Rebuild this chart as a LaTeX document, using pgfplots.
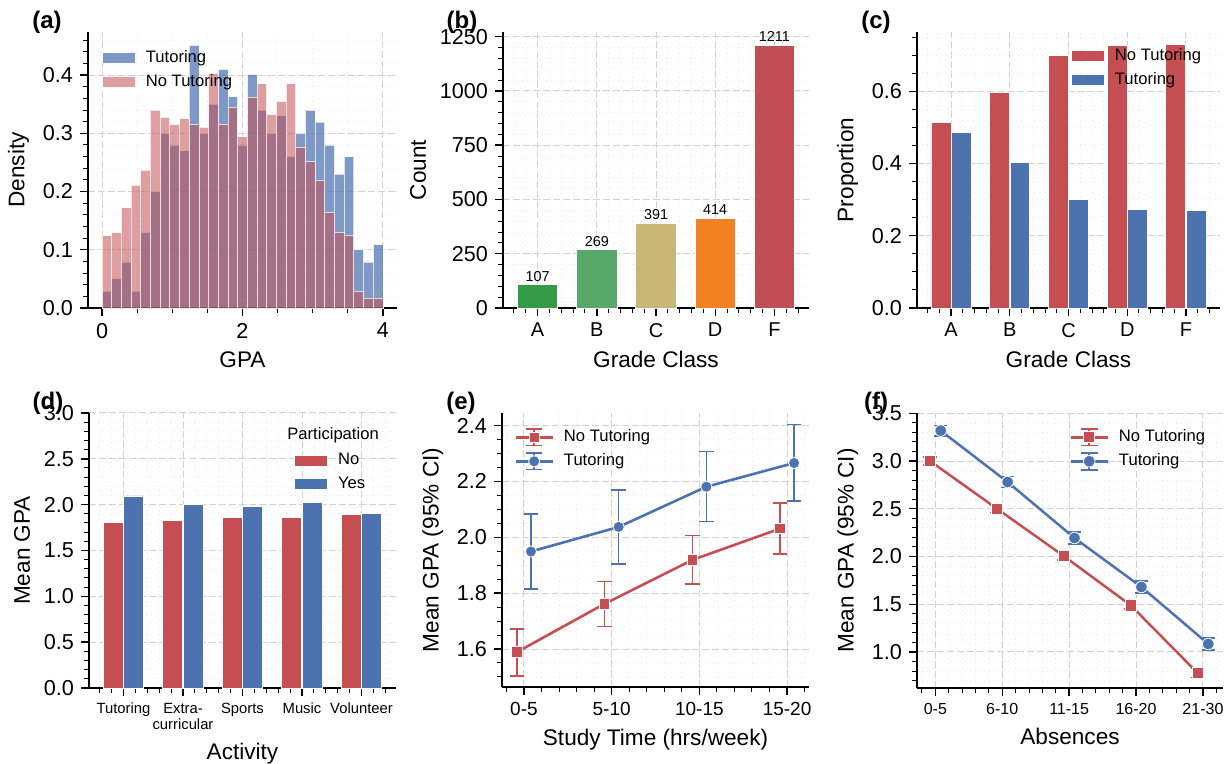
\documentclass[border=0pt]{standalone}
\usepackage{fontspec}
\setmainfont{Liberation Sans}
\usepackage{pgfplots}
\usepackage{pgfplotstable}
\pgfplotsset{compat=1.18}

\definecolor{cblue}{HTML}{4C72B0}
\definecolor{cred}{HTML}{C44E52}
\definecolor{gA}{HTML}{339A45}
\definecolor{gB}{HTML}{58A86A}
\definecolor{gC}{HTML}{C9B674}
\definecolor{gD}{HTML}{F28124}
\definecolor{gF}{HTML}{C14E52}
\definecolor{gridc}{HTML}{D2D2D2}
\definecolor{gridm}{HTML}{EBEBEB}

\newcommand{\tickfont}{\fontsize{10.8}{12}\selectfont}
\newcommand{\labfont}{\fontsize{11.3}{13}\selectfont}
\newcommand{\legfont}{\fontsize{8.3}{10}\selectfont}
\newcommand{\panfont}{\bfseries\fontsize{12}{14}\selectfont}

% GPA histogram, 29 bins on [0,4]
\pgfplotstableread{
edge   tut    notut
0.0000 0.029  0.124
0.1379 0.050  0.129
0.2759 0.079  0.172
0.4138 0.029  0.211
0.5517 0.130  0.237
0.6897 0.200  0.340
0.8276 0.300  0.327
0.9655 0.280  0.315
1.1034 0.270  0.325
1.2414 0.451  0.315
1.3793 0.300  0.310
1.5172 0.350  0.403
1.6552 0.410  0.315
1.7931 0.363  0.345
1.9310 0.280  0.294
2.0690 0.401  0.362
2.2069 0.340  0.385
2.3448 0.300  0.332
2.4828 0.330  0.355
2.6207 0.260  0.385
2.7586 0.300  0.276
2.8966 0.340  0.251
3.0345 0.319  0.219
3.1724 0.280  0.164
3.3103 0.230  0.130
3.4483 0.260  0.125
3.5862 0.100  0.029
3.7241 0.079  0.017
3.8621 0.109  0.017
4.0000 0      0
}\histdata

\pgfplotsset{
  panel/.style={
    scale only axis, width=153.5pt, height=138pt, anchor=south west,
    axis lines=left, axis line style={-, line width=1.1pt},
    tick align=outside,
    major tick length=4pt, minor tick length=2.3pt,
    every major tick/.append style={line width=0.7pt, black},
    every minor tick/.append style={line width=0.5pt, black},
    grid=both,
    major grid style={dash pattern=on 3.5pt off 1.5pt, gridc, line width=0.5pt},
    minor grid style={dotted, gridm, line width=0.4pt},
    tick label style={font=\tickfont},
    label style={font=\labfont},
    /pgf/number format/assume math mode=true,
    /pgf/number format/1000 sep={},
    clip=false,
    legend cell align=left,
    legend style={draw=none, fill=none, font=\legfont, inner sep=0pt,
      row sep=0.5pt, nodes={inner sep=2pt},
      /tikz/every odd column/.style={column sep=3pt}},
  },
  onedec/.style={yticklabel style={/pgf/number format/.cd, fixed, fixed zerofill, precision=1}},
  barleg/.style={legend image code/.code={
    \draw[##1, draw=white, line width=0.3pt] (0pt,-2.8pt) rectangle (16.5pt,2.8pt);}},
  errleg/.style={legend image code/.code={
    \draw[##1, mark=none] (0pt,0pt) -- (18.5pt,0pt);
    \draw[##1, mark=none, line width=0.8pt] (9.25pt,-4.2pt) -- (9.25pt,4.2pt)
      (5.1pt,4.2pt) -- (13.4pt,4.2pt) (5.1pt,-4.2pt) -- (13.4pt,-4.2pt);
    \draw[##1, only marks] plot coordinates {(9.25pt,0pt)};}},
}

\begin{document}
\begin{tikzpicture}

% (a) GPA distribution
\begin{axis}[panel, at={(44pt,228pt)}, width=154.5pt,
  xmin=-0.2, xmax=4.2, ymin=0, ymax=0.474,
  xtick={0,2,4}, minor xtick={0.5,1,1.5,2.5,3,3.5},
  ytick={0,0.1,0.2,0.3,0.4}, minor ytick={0.02,0.04,...,0.46}, onedec,
  xlabel={GPA}, ylabel={Density},
  legend style={at={(rel axis cs:0.045,0.95)}, anchor=north west}]
\addplot[ybar interval, fill=cblue, fill opacity=0.72, draw=white, draw opacity=0.7,
  line width=0.4pt, forget plot] table[x=edge, y=tut] {\histdata};
\addplot[ybar interval, fill=cred, fill opacity=0.55, draw=white, draw opacity=0.7,
  line width=0.4pt, forget plot] table[x=edge, y=notut] {\histdata};
\addlegendimage{fill=cblue, fill opacity=0.72, barleg}
\addlegendentry{Tutoring}
\addlegendimage{fill=cred, fill opacity=0.55, barleg}
\addlegendentry{No Tutoring}
\node[font=\panfont] at ([xshift=-20.5pt, yshift=5pt]rel axis cs:0,1) {(a)};
\end{axis}

% (b) grade class counts
\begin{axis}[panel, at={(251.5pt,228pt)}, width=153pt,
  xmin=-0.585, xmax=4.585, ymin=0, ymax=1271.5,
  xtick={0,...,4}, xticklabels={A,B,C,D,F}, minor xtick={-0.4,-0.2,...,4.4},
  xticklabel style={font=\fontsize{10}{12}\selectfont},
  ytick={0,250,...,1250}, minor ytick={50,100,...,1250},
  xlabel={Grade Class}, ylabel={Count},
  nodes near coords, nodes near coords style={font=\fontsize{7.2}{8}\selectfont, black, inner sep=1.5pt}]
\addplot[ybar, bar width=0.68, bar shift=0, fill=gA, draw=white] coordinates {(0,107)};
\addplot[ybar, bar width=0.68, bar shift=0, fill=gB, draw=white] coordinates {(1,269)};
\addplot[ybar, bar width=0.68, bar shift=0, fill=gC, draw=white] coordinates {(2,391)};
\addplot[ybar, bar width=0.68, bar shift=0, fill=gD, draw=white] coordinates {(3,414)};
\addplot[ybar, bar width=0.68, bar shift=0, fill=gF, draw=white] coordinates {(4,1211)};
\node[font=\panfont] at ([xshift=-20.5pt, yshift=5pt]rel axis cs:0,1) {(b)};
\end{axis}

% (c) tutoring proportion by grade
\begin{axis}[panel, at={(458.5pt,228pt)}, width=151.5pt,
  xmin=-0.58, xmax=4.58, ymin=0, ymax=0.764,
  xtick={0,...,4}, xticklabels={A,B,C,D,F}, minor xtick={-0.4,-0.2,...,4.4},
  xticklabel style={font=\fontsize{10}{12}\selectfont},
  ytick={0,0.2,0.4,0.6}, minor ytick={0.05,0.1,...,0.75}, onedec,
  xlabel={Grade Class}, ylabel={Proportion},
  legend style={at={(rel axis cs:0.508,0.957)}, anchor=north west}]
\addplot[ybar, bar width=0.34, bar shift=-0.172, fill=cred, draw=white, forget plot]
  coordinates {(0,0.513) (1,0.597) (2,0.700) (3,0.727) (4,0.730)};
\addplot[ybar, bar width=0.34, bar shift=0.172, fill=cblue, draw=white, forget plot]
  coordinates {(0,0.487) (1,0.403) (2,0.300) (3,0.273) (4,0.270)};
\addlegendimage{fill=cred, barleg}
\addlegendentry{No Tutoring}
\addlegendimage{fill=cblue, barleg}
\addlegendentry{Tutoring}
\node[font=\panfont] at ([xshift=-20.5pt, yshift=5pt]rel axis cs:0,1) {(c)};
\end{axis}

% (d) mean GPA by activity
\begin{axis}[panel, at={(44.5pt,38pt)}, width=153.5pt, height=137.5pt,
  xmin=-0.58, xmax=4.58, ymin=0, ymax=3,
  xtick={0,...,4}, xticklabels={Tutoring,Extra-\\curricular,Sports,Music,Volunteer},
  minor xtick={-0.4,-0.2,...,4.4},
  xticklabel style={font=\fontsize{7.4}{8.2}\selectfont, align=center},
  ytick={0,0.5,...,3}, minor ytick={0.1,0.2,...,2.95}, onedec,
  xlabel={Activity}, ylabel={Mean GPA},
  legend style={at={(rel axis cs:0.668,0.869)}, anchor=north west}]
\addplot[ybar, bar width=0.34, bar shift=-0.172, fill=cred, draw=white, forget plot]
  coordinates {(0,1.807) (1,1.832) (2,1.861) (3,1.861) (4,1.898)};
\addplot[ybar, bar width=0.34, bar shift=0.172, fill=cblue, draw=white, forget plot]
  coordinates {(0,2.095) (1,2.007) (2,1.978) (3,2.029) (4,1.905)};
\addlegendimage{fill=cred, barleg}
\addlegendentry{No}
\addlegendimage{fill=cblue, barleg}
\addlegendentry{Yes}
\node[font=\legfont] at (rel axis cs:0.795,0.92) {Participation};
\node[font=\panfont] at ([xshift=-20.5pt, yshift=5pt]rel axis cs:0,1) {(d)};
\end{axis}

% (e) study time
\begin{axis}[panel, at={(251pt,38.5pt)}, width=153.5pt, height=137pt,
  xmin=-0.25, xmax=3.25, ymin=1.464, ymax=2.445,
  xtick={0,1,2,3}, xticklabels={0-5,5-10,10-15,15-20}, minor xtick={-0.2,0,...,3.2},
  xticklabel style={font=\fontsize{9.5}{11}\selectfont},
  ytick={1.6,1.8,2.0,2.2,2.4}, minor ytick={1.5,1.55,...,2.42}, onedec,
  xlabel={Study Time (hrs/week)}, ylabel={Mean GPA (95\% CI)},
  legend style={at={(rel axis cs:0.039,0.955)}, anchor=north west}]
\addplot[cred, line width=1.3pt, mark=square*, mark size=2.6pt,
  mark options={draw=white, line width=0.4pt, fill=cred}, forget plot,
  error bars/.cd, y dir=both, y explicit,
  error bar style={line width=0.8pt, cred},
  error mark options={draw=cred, rotate=90, mark size=3.7pt, line width=0.8pt}]
  coordinates {(-0.08,1.589) += (0,0.083) -= (0,0.085)
               (0.92,1.762) += (0,0.080) -= (0,0.082)
               (1.92,1.919) += (0,0.088) -= (0,0.086)
               (2.92,2.031) += (0,0.091) -= (0,0.091)};
\addplot[cblue, line width=1.3pt, mark=*, mark size=2.8pt,
  mark options={draw=white, line width=0.4pt, fill=cblue}, forget plot,
  error bars/.cd, y dir=both, y explicit,
  error bar style={line width=0.8pt, cblue},
  error mark options={draw=cblue, rotate=90, mark size=3.7pt, line width=0.8pt}]
  coordinates {(0.08,1.949) += (0,0.135) -= (0,0.134)
               (1.08,2.037) += (0,0.133) -= (0,0.132)
               (2.08,2.181) += (0,0.126) -= (0,0.124)
               (3.08,2.266) += (0,0.138) -= (0,0.136)};
\addlegendimage{cred, line width=1.3pt, mark=square*, mark size=2.6pt,
  mark options={draw=white, line width=0.4pt, fill=cred}, errleg}
\addlegendentry{No Tutoring}
\addlegendimage{cblue, line width=1.3pt, mark=*, mark size=2.8pt,
  mark options={draw=white, line width=0.4pt, fill=cblue}, errleg}
\addlegendentry{Tutoring}
\node[font=\panfont] at ([xshift=-20.5pt, yshift=5pt]rel axis cs:0,1) {(e)};
\end{axis}

% (f) absences
\begin{axis}[panel, at={(458.5pt,38pt)}, width=153pt, height=137.5pt,
  xmin=-0.274, xmax=4.3, ymin=0.623, ymax=3.503,
  xtick={0,...,4}, xticklabels={0-5,6-10,11-15,16-20,21-30}, minor xtick={-0.2,0,...,4.2},
  xticklabel style={font=\fontsize{8}{10}\selectfont},
  ytick={1,1.5,...,3.5}, minor ytick={0.7,0.8,...,3.45}, onedec,
  xlabel={Absences}, ylabel={Mean GPA (95\% CI)},
  legend style={at={(rel axis cs:0.497,0.955)}, anchor=north west}]
\addplot[cred, line width=1.25pt, mark=square*, mark size=2.8pt,
  mark options={draw=white, line width=0.4pt, fill=cred}, forget plot,
  error bars/.cd, y dir=both, y explicit,
  error bar style={line width=0.8pt, cred},
  error mark options={draw=cred, rotate=90, mark size=3.3pt, line width=0.8pt}]
  coordinates {(-0.08,3.000) +- (0,0.044)
               (0.92,2.501) +- (0,0.040)
               (1.92,2.005) +- (0,0.040)
               (2.92,1.489) +- (0,0.040)
               (3.92,0.780) +- (0,0.047)};
\addplot[cblue, line width=1.25pt, mark=*, mark size=2.9pt,
  mark options={draw=white, line width=0.4pt, fill=cblue}, forget plot,
  error bars/.cd, y dir=both, y explicit,
  error bar style={line width=0.8pt, cblue},
  error mark options={draw=cblue, rotate=90, mark size=3.3pt, line width=0.8pt}]
  coordinates {(0.08,3.318) +- (0,0.054)
               (1.08,2.780) +- (0,0.058)
               (2.08,2.194) +- (0,0.060)
               (3.08,1.681) +- (0,0.061)
               (4.08,1.084) +- (0,0.061)};
\addlegendimage{cred, line width=1.25pt, mark=square*, mark size=2.8pt,
  mark options={draw=white, line width=0.4pt, fill=cred}, errleg}
\addlegendentry{No Tutoring}
\addlegendimage{cblue, line width=1.25pt, mark=*, mark size=2.9pt,
  mark options={draw=white, line width=0.4pt, fill=cblue}, errleg}
\addlegendentry{Tutoring}
\node[font=\panfont] at ([xshift=-20.5pt, yshift=5pt]rel axis cs:0,1) {(f)};
\end{axis}

\pgfresetboundingbox
\path[use as bounding box] (0pt,0pt) rectangle (615pt,382pt);
\end{tikzpicture}
\end{document}
